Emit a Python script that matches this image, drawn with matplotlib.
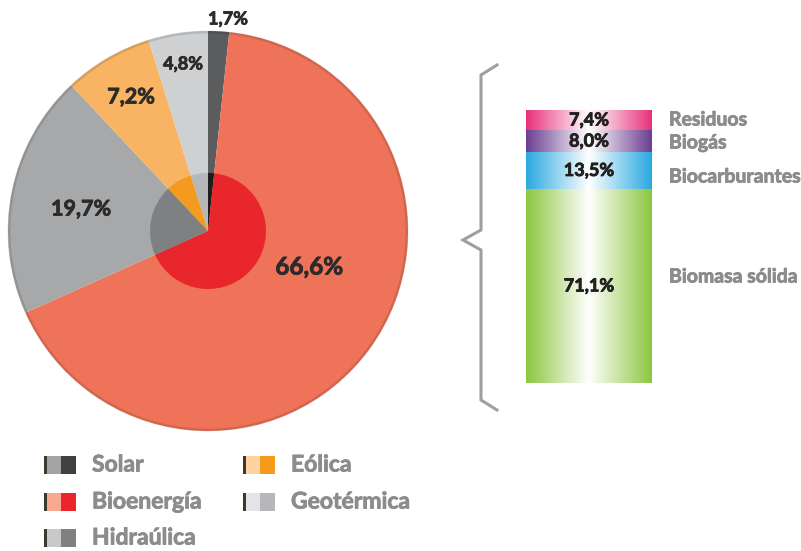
import matplotlib.pyplot as plt
import matplotlib.patheffects as pe
import numpy as np
from matplotlib.patches import Circle, Rectangle
from matplotlib.colors import LinearSegmentedColormap

plt.rcParams['font.family'] = ['Lato', 'DejaVu Sans']

# pie data (clockwise from top)
sources = ['Solar', 'Bioenergía', 'Hidraúlica', 'Eólica', 'Geotérmica']
shares = [1.7, 66.6, 19.7, 7.2, 4.8]
share_labels = ['1,7%', '66,6%', '19,7%', '7,2%', '4,8%']
outer_colors = ['#5b5c5e', '#ef7358', '#a6a8aa', '#f8b462', '#cfd0d2']
inner_colors = ['#1e1e1e', '#e8262b', '#7e8082', '#f39a1f', '#b6b7b9']
swatch_light = ['#a3a3a3', '#f8a98f', '#c9c9c9', '#fdd4a0', '#e4e4e6']

# bioenergy breakdown (bottom to top)
bio_parts = ['Biomasa sólida', 'Biocarburantes', 'Biogás', 'Residuos']
bio_shares = [71.1, 13.5, 8.0, 7.4]
bio_labels = ['71,1%', '13,5%', '8,0%', '7,4%']
bio_colors = ['#8dc63f', '#29a9e1', '#6b3e91', '#e8317b']

W, H = 801, 551
fig = plt.figure(figsize=(W / 100, H / 100), dpi=100)
ax = fig.add_axes([0, 0, 1, 1])


def Y(y):
    return H - y


def heavy(color):
    # thicken Lato Bold a little, the original font is heavier
    return [pe.withStroke(linewidth=0.6, foreground=color)]


cx, cy, R, r_in = 208, Y(231), 200, 58
ax.pie(shares, colors=outer_colors, radius=R, center=(cx, cy), startangle=90,
       counterclock=False, wedgeprops=dict(linewidth=0))
ax.pie(shares, colors=inner_colors, radius=r_in, center=(cx, cy), startangle=90,
       counterclock=False, wedgeprops=dict(linewidth=0))
ax.add_patch(Circle((cx, cy), R - 1, fill=False, ec='#000000', lw=2.0, alpha=0.12))

# pie value labels (pixel positions, font size)
pie_txt = [(228, 19, 13), (309, 267, 17.5), (81, 209, 15.5), (131, 97, 15.5), (183, 64, 13)]
for lab, (tx, ty, fs) in zip(share_labels, pie_txt):
    ax.text(tx, Y(ty), lab, ha='center', va='center', fontsize=fs,
            fontweight='bold', color='#2b2b2b', path_effects=heavy('#2b2b2b'))

# brace
bx = [497, 481, 481, 463, 481, 481, 497]
by = [65, 75, 230, 240, 250, 400, 410]
ax.plot(bx, [Y(v) for v in by], color='#9d9fa2', lw=2.2, solid_joinstyle='miter')

# legend
leg_x = [44, 44, 44, 243, 243]
leg_y = [465, 502, 538, 465, 502]
main_sw = ['#3f4042', '#e8262b', '#7e8082', '#f39a1f', '#b6b7b9']
for i in range(len(sources)):
    x0, y0 = leg_x[i], leg_y[i]
    h = 18
    ax.add_patch(Rectangle((x0, Y(y0) - h / 2), 3, h, color='#3a3a2e', lw=0))
    ax.add_patch(Rectangle((x0 + 3, Y(y0) - h / 2), 14, h, color=swatch_light[i], lw=0))
    ax.add_patch(Rectangle((x0 + 17, Y(y0) - h / 2), 15, h, color=main_sw[i], lw=0))
    ax.text(x0 + 48, Y(y0), sources[i], ha='left', va='center', fontsize=16.5,
            fontweight='bold', color='#8b8c8e', path_effects=heavy('#8b8c8e'))

ax.set_xlim(0, W)
ax.set_ylim(0, H)
ax.set_aspect('auto')
ax.axis('off')

# stacked bar with horizontal gradients
bar_ax = fig.add_axes([526 / W, (H - 383) / H, 126 / W, 273 / H])
grad = np.linspace(0, 1, 256)
bottom = 0
for name, v, lab, col in zip(bio_parts, bio_shares, bio_labels, bio_colors):
    bars = bar_ax.bar(0.5, v, width=1, bottom=bottom, color='none', lw=0)
    cmap = LinearSegmentedColormap.from_list(name, [col, '#ffffff', col])
    im = bar_ax.imshow(grad[None, :], cmap=cmap, aspect='auto',
                       extent=(0, 1, bottom, bottom + v), origin='lower')
    im.set_clip_path(bars[0])
    bar_ax.text(0.5, bottom + v / 2, lab, ha='center', va='center', fontsize=13,
                fontweight='bold', color='#231f20', path_effects=heavy('#231f20'))
    bottom += v
bar_ax.set_xlim(0, 1)
bar_ax.set_ylim(0, sum(bio_shares))
bar_ax.axis('off')

# side labels for breakdown
side_y = [277, 177, 143, 120]
for name, sy in zip(bio_parts, side_y):
    ax.text(669, Y(sy), name, ha='left', va='center', fontsize=14,
            fontweight='bold', color='#8b8c8e', path_effects=heavy('#8b8c8e'))

fig.savefig('out.png', dpi=100)
